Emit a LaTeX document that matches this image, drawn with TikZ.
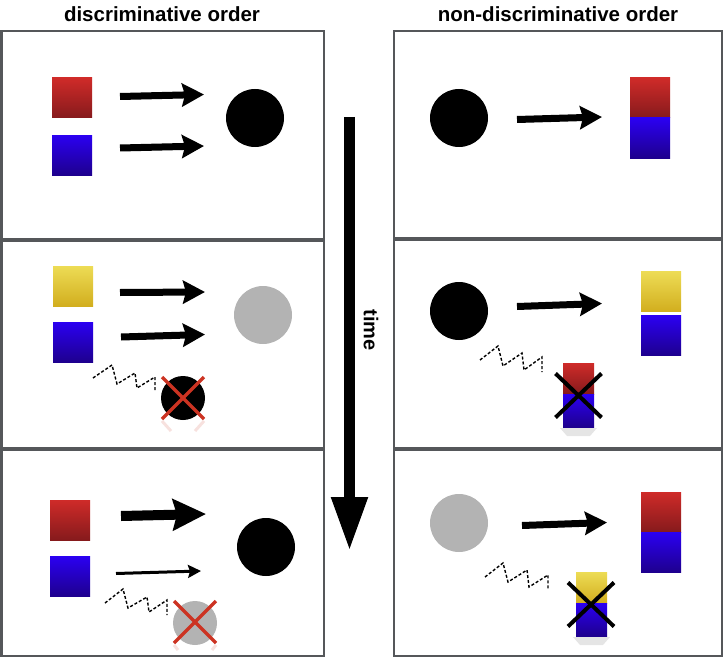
\documentclass[tikz,border=0pt]{standalone}
\usepackage{fontspec}
\setmainfont{Liberation Sans}
\usetikzlibrary{arrows.meta,calc}
\definecolor{redT}{HTML}{CF2B29}
\definecolor{redB}{HTML}{861A1C}
\definecolor{bluT}{HTML}{2B00F2}
\definecolor{bluB}{HTML}{1E008E}
\definecolor{yelT}{HTML}{EDDC55}
\definecolor{yelB}{HTML}{D2AE1E}
\definecolor{boxgray}{HTML}{55575A}
\definecolor{lightgray}{HTML}{B3B3B3}
\definecolor{xred}{HTML}{CC3322}
\begin{document}
\begin{tikzpicture}[x=1pt,y=-1pt,
  panel/.style={draw=boxgray, line width=2.5pt},
  sq/.style={minimum width=40pt, minimum height=40pt, inner sep=0pt, draw=none},
  smallsq/.style={minimum width=31pt, minimum height=31pt, inner sep=0pt, draw=none},
  redsq/.style={top color=redT, bottom color=redB},
  blusq/.style={top color=bluT, bottom color=bluB},
  yelsq/.style={top color=yelT, bottom color=yelB},
  disc/.style={circle, inner sep=0pt, minimum size=58pt, draw=none},
  smalldisc/.style={circle, inner sep=0pt, minimum size=44pt, draw=none},
  arr/.style={line width=7pt, -{Stealth[length=22pt,width=23pt,inset=3pt]}},
  bigarr/.style={line width=10pt, -{Stealth[length=33pt,width=31pt,inset=4pt]}},
  thinarr/.style={line width=3pt, -{Stealth[length=13pt,width=13pt,inset=2pt]}},
  zig/.style={black, line width=1.4pt, dash pattern=on 3pt off 2pt},
  redx/.style={xred, line width=3.5pt},
  redrefl/.style={xred, line width=3pt, opacity=0.15},
  blackx/.style={black, line width=4pt},
  title/.style={font=\fontsize{20.5}{24}\selectfont\bfseries}
]
\useasboundingbox (0,0) rectangle (725,658);

% titles
\node[title] (t1) at (162,14) {discriminative order};
\node[title] (t2) at (558,14) {non-discriminative order};

% panels
\draw[panel] (1.5,31) rectangle (324,239);
\draw[panel] (1.5,241) rectangle (324,448);
\draw[panel] (1.5,450) rectangle (324,656);
\draw[panel] (394,31) rectangle (722,238);
\draw[panel] (394,240) rectangle (722,448);
\draw[panel] (394,450) rectangle (722,656);

% time arrow
\coordinate (ts) at (349.5,117);
\coordinate (te) at (349.5,551);
\draw[line width=11pt, -{Triangle[length=54pt,width=34pt]}] (ts) -- (te);
\node[rotate=-90, font=\fontsize{20}{24}\selectfont\bfseries] (time) at (371,330) {time};

% ---------- left top ----------
\node[sq,redsq] (L1r) at (72,98) {};
\node[sq,blusq] (L1b) at (72,155) {};
\node[disc,fill=black] (L1c) at (255,118) {};
\coordinate (L1a1s) at (120,96.5);
\coordinate (L1a1e) at (204,94.5);
\coordinate (L1a2s) at (120,148);
\coordinate (L1a2e) at (204,146);
\draw[arr] (L1a1s) -- (L1a1e);
\draw[arr] (L1a2s) -- (L1a2e);

% ---------- left middle ----------
\node[sq,yelsq] (L2y) at (73,286) {};
\node[sq,blusq] (L2b) at (73,342) {};
\node[disc,fill=lightgray] (L2c) at (263,315) {};
\coordinate (L2a1s) at (120,292.5);
\coordinate (L2a1e) at (205,292);
\coordinate (L2a2s) at (121,337);
\coordinate (L2a2e) at (205,334.5);
\draw[arr] (L2a1s) -- (L2a1e);
\draw[arr] (L2a2s) -- (L2a2e);
\draw[zig] (93,378) -- (112,365) -- (117,384) -- (135,373) -- (137,388) -- (155,377) -- (155,390);
\node[smalldisc,fill=black] (L2x) at (183,398) {};
\draw[redrefl] ($(L2x)+(-21,23)$) -- ($(L2x)+(-12,33)$);
\draw[redrefl] ($(L2x)+(21,23)$) -- ($(L2x)+(12,33)$);
\draw[redx] ($(L2x)+(-21,-21)$) -- ($(L2x)+(21,21)$);
\draw[redx] ($(L2x)+(-21,21)$) -- ($(L2x)+(21,-21)$);

% ---------- left bottom ----------
\node[sq,redsq] (L3r) at (70,520) {};
\node[sq,blusq] (L3b) at (70,576) {};
\node[disc,fill=black] (L3c) at (266,547) {};
\coordinate (L3a1s) at (121,516) ;
\coordinate (L3a1e) at (206,514);
\coordinate (L3a2s) at (116,573.5);
\coordinate (L3a2e) at (201,571);
\draw[bigarr] (L3a1s) -- (L3a1e);
\draw[thinarr] (L3a2s) -- (L3a2e);
\draw[zig] (105,603) -- (123,589) -- (128,608) -- (147,597) -- (149,612) -- (167,600) -- (167,615);
\node[smalldisc,fill=lightgray] (L3x) at (195,623) {};
\draw[redrefl] ($(L3x)+(-21,22)$) -- ($(L3x)+(-17,27)$);
\draw[redrefl] ($(L3x)+(21,22)$) -- ($(L3x)+(17,27)$);
\draw[redx] ($(L3x)+(-21,-22)$) -- ($(L3x)+(21,20)$);
\draw[redx] ($(L3x)+(-21,20)$) -- ($(L3x)+(21,-22)$);

% ---------- right top ----------
\node[disc,fill=black] (R1c) at (459,118) {};
\node[sq,redsq] (R1r) at (650,98) {};
\node[sq,blusq] (R1b) at (650,138) {};
\coordinate (R1as) at (517,119.5);
\coordinate (R1ae) at (602,117);
\draw[arr] (R1as) -- (R1ae);

% ---------- right middle ----------
\node[disc,fill=black] (R2c) at (459,311) {};
\node[sq,yelsq] (R2y) at (661,291.5) {};
\node[sq,blusq] (R2b) at (661,335.5) {};
\coordinate (R2as) at (517,306.5);
\coordinate (R2ae) at (602,303.5);
\draw[arr] (R2as) -- (R2ae);
\draw[zig] (480,360) -- (498,346) -- (503,366) -- (522,353) -- (524,370) -- (542,357) -- (542,372);
\node[smallsq,redsq, minimum height=31pt] (R2xr) at (578.5,378.5) {};
\node[smallsq,blusq, minimum height=33pt] (R2xb) at (578.5,410.5) {};
\fill[black, opacity=0.10] (560,428) -- (597,428) -- (590,436) -- (567,436) -- cycle;
\coordinate (R2xc) at (578.5,395.5);
\draw[blackx] ($(R2xc)+(-23,-22)$) -- ($(R2xc)+(23,22)$);
\draw[blackx] ($(R2xc)+(-23,22)$) -- ($(R2xc)+(23,-22)$);

% ---------- right bottom ----------
\node[disc,fill=lightgray] (R3c) at (459,523) {};
\node[sq,redsq] (R3r) at (661,512) {};
\node[sq,blusq] (R3b) at (661,552) {};
\coordinate (R3as) at (522,525.5);
\coordinate (R3ae) at (607,522.5);
\draw[arr] (R3as) -- (R3ae);
\draw[zig] (485,577) -- (503,563) -- (508,582) -- (527,570) -- (529,587) -- (548,575) -- (548,589);
\node[smallsq,yelsq, minimum height=31pt] (R3xy) at (591.5,587.5) {};
\node[smallsq,blusq, minimum height=33pt] (R3xb) at (591.5,619.5) {};
\fill[black, opacity=0.10] (573,637) -- (610,637) -- (603,645) -- (580,645) -- cycle;
\coordinate (R3xc) at (591,604.5);
\draw[blackx] ($(R3xc)+(-23,-22)$) -- ($(R3xc)+(23,22)$);
\draw[blackx] ($(R3xc)+(-23,22)$) -- ($(R3xc)+(23,-22)$);
\end{tikzpicture}
\end{document}
